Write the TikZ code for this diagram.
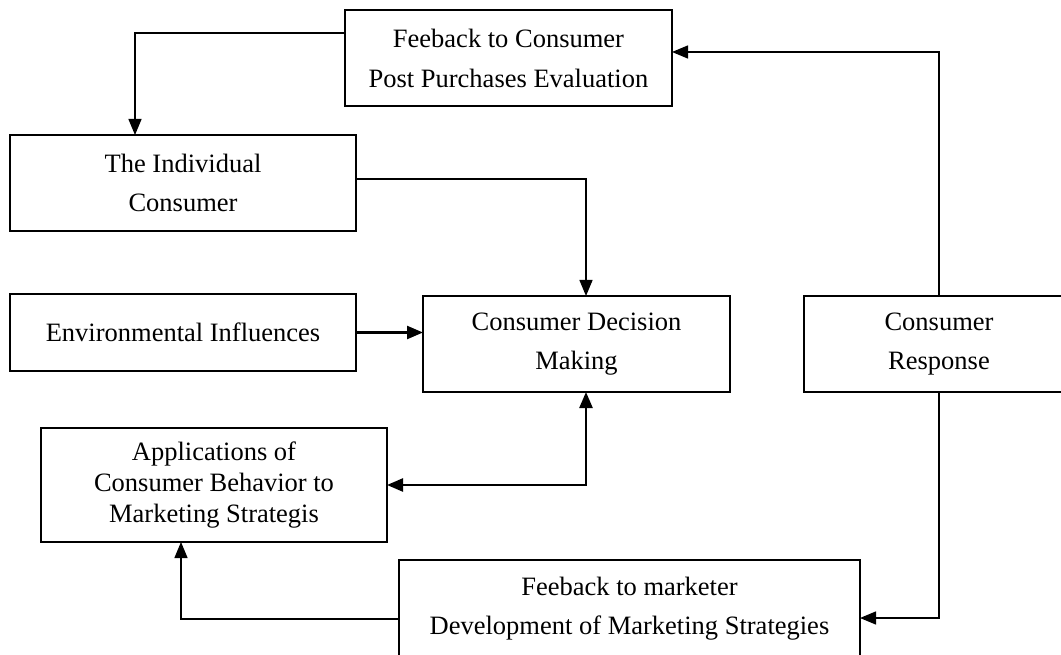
\documentclass[tikz,border=0pt]{standalone}
\usepackage{fontspec}
\setmainfont{Liberation Serif}
\usetikzlibrary{arrows.meta}
\begin{document}
\begin{tikzpicture}[x=1pt,y=-1pt,
  box/.style={draw,line width=1.8pt,inner sep=0pt,outer sep=0pt,align=center,
    font=\fontsize{26.5}{39}\selectfont},
  conn/.style={line width=1.4pt,-{Triangle[length=16pt,width=13pt]}},
  thickconn/.style={line width=2.4pt,-{Triangle[length=16pt,width=13pt]}},
  txt/.style={inner sep=0pt,align=center,font=\fontsize{26.5}{39}\selectfont}]
\useasboundingbox (0,0) rectangle (1061,655);
\fill[white] (0,0) rectangle (1061,655);
\node[box,minimum width=327pt,minimum height=96pt,font=\fontsize{26.5}{40}\selectfont] (fbc) at (508.5,58) {Feeback to Consumer\\Post Purchases Evaluation};
\node[box,minimum width=346pt,minimum height=96pt] (ind) at (183,183) {The Individual\\Consumer};
\node[box,minimum width=346pt,minimum height=77pt] (env) at (183,332.5) {Environmental Influences};
\node[box,minimum width=307pt,minimum height=96pt] (dec) at (576.5,344) {Consumer Decision\\Making};
\node[box,minimum width=270pt,minimum height=96pt] (resp) at (939,344) {Consumer\\Response};
\node[box,minimum width=346pt,minimum height=114pt,font=\fontsize{26.5}{31}\selectfont] (app) at (214,485) {Applications of\\Consumer Behavior to\\Marketing Strategis};
\node[box,minimum width=461pt,minimum height=104pt] (mkt) at (629.5,612) {};
\node[txt] (mkttext) at (629.5,608.3) {Feeback to marketer\\Development of Marketing Strategies};
% connectors
\draw[conn] ([yshift=25pt]fbc.west) -| ([xshift=-48pt]ind.north);
\draw[conn] (resp.north) |- ([yshift=6pt]fbc.east);
\draw[conn] ([yshift=4pt]ind.east) -| ([xshift=9.5pt]dec.north);
\draw[thickconn] (env.east) -- (env.east -| dec.west);
\draw[thickconn,{Triangle[length=16pt,width=13pt]}-{Triangle[length=16pt,width=13pt]}] ([xshift=9.5pt]dec.south) |- (app.east);
\draw[conn] (resp.south) |- ([yshift=-6pt]mkt.east);
\draw[conn] ([yshift=-7pt]mkt.west) -| ([xshift=-33pt]app.south);
\end{tikzpicture}
\end{document}
